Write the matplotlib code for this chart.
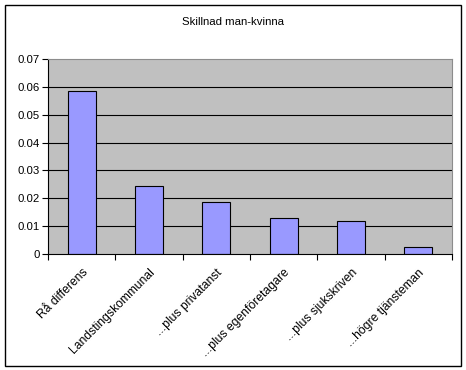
import matplotlib
matplotlib.use("Agg")
import matplotlib.pyplot as plt
from matplotlib.patches import Rectangle

categories = ["Rå differens", "Landstingskommunal", "...plus privatanst",
              "...plus egenföretagare", "...plus sjukskriven", "...högre tjänsteman"]
values = [0.0584, 0.0244, 0.0185, 0.0128, 0.0117, 0.0024]
yticks = [0, 0.01, 0.02, 0.03, 0.04, 0.05, 0.06, 0.07]
ytick_labels = ["0", "0.01", "0.02", "0.03", "0.04", "0.05", "0.06", "0.07"]
title = "Skillnad man-kvinna"

plt.rcParams['font.family'] = ['Liberation Sans', 'DejaVu Sans']

W, H = 466, 370
fig = plt.figure(figsize=(W/100, H/100), dpi=100)
fig.patch.set_facecolor('white')

# outer frame
fig.patches.append(Rectangle((5/W, 1 - 366/H), (461-5)/W, (366-5)/H,
                             transform=fig.transFigure, fill=False,
                             edgecolor='black', linewidth=1.0))

left, right, top, bottom = 48, 452, 59, 254
ax = fig.add_axes([left/W, 1 - bottom/H, (right-left)/W, (bottom-top)/H])
ax.set_facecolor('#C0C0C0')

x = list(range(len(categories)))
ax.bar(x, values, width=0.42, color='#9999FF', edgecolor='black', linewidth=0.8, zorder=3)

ax.set_xlim(-0.5, len(categories) - 0.5)
ax.set_ylim(0, 0.07)
ax.set_yticks(yticks)
ax.set_yticklabels(ytick_labels, fontsize=8.2)
for yv in yticks[1:-1]:
    ax.axhline(yv, color='black', linewidth=0.8, zorder=1)

ax.set_xticks([i + 0.5 for i in range(-1, len(categories))], minor=False)
ax.set_xticklabels([])
ax.set_xticks(x, minor=True)
ax.set_xticklabels(categories, minor=True, rotation=45, ha='right',
                   rotation_mode='anchor', fontsize=8.7)
ax.tick_params(axis='x', which='minor', length=0, pad=9)
ax.tick_params(axis='x', which='major', length=4, direction='out', width=0.8)
ax.tick_params(axis='y', length=4, direction='out', width=0.8, pad=2)

for s in ['top', 'right']:
    ax.spines[s].set_color('#8C8C8C')
    ax.spines[s].set_linewidth(0.8)
for s in ['left', 'bottom']:
    ax.spines[s].set_color('black')
    ax.spines[s].set_linewidth(0.8)
ax.spines['bottom'].set_zorder(4)

fig.text((5+461)/2/W, 1 - 22/H, title, ha='center', va='center', fontsize=8.2)

fig.savefig("out.png", dpi=100)
